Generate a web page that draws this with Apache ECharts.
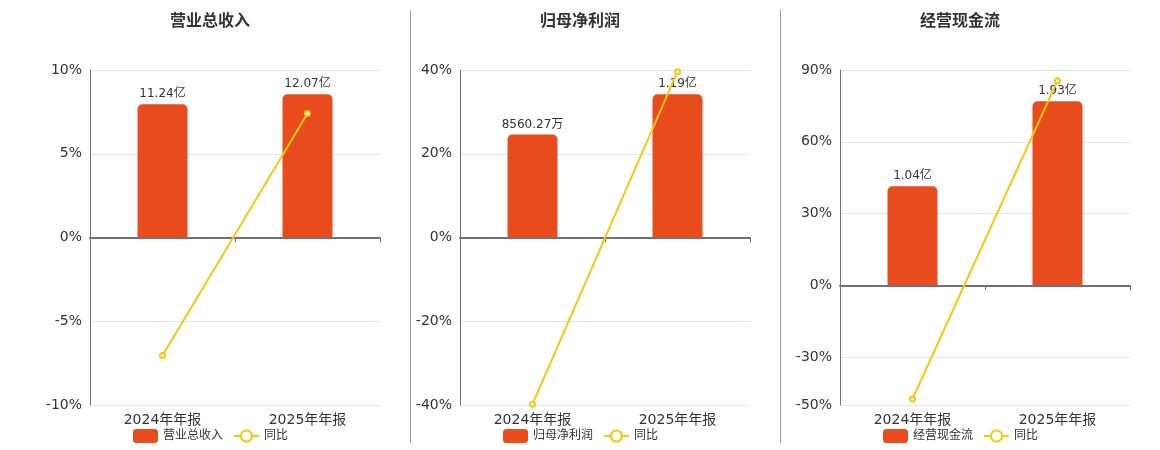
<!DOCTYPE html>
<html><head><meta charset="utf-8">
<script src="https://cdn.jsdelivr.net/npm/echarts@6/dist/echarts.min.js"></script>
<style>html,body{margin:0;padding:0;background:#fff}#c{width:1160px;height:450px}</style>
</head><body><div id="c"></div>
<script>
const categories = ['2024年年报', '2025年年报'];
const titles = ['营业总收入', '归母净利润', '经营现金流'];
// values in 亿
const revenue = [11.24, 12.07];
const netProfit = [0.856027, 1.19];
const cashFlow = [1.04, 1.93];
// YoY %
const revenueYoy = [-7.05, 7.4];
const netProfitYoy = [-39.8, 39.6];
const cashFlowYoy = [-47.5, 85.5];
// percent axis ranges and tick labels
const pctMin = [-10, -40, -50];
const pctMax = [10, 40, 90];
const pctTicks = [[-10, -5, 0, 5, 10], [-40, -20, 0, 20, 40], [-50, -30, 0, 30, 60, 90]];

const barData = [revenue, netProfit, cashFlow];
const yoyData = [revenueYoy, netProfitYoy, cashFlowYoy];
const FONT = "'DejaVu Sans', 'Noto Sans CJK SC', sans-serif";
const BAR = '#e84c1d', LINE = '#f2c811';

function fmt(v) {
  return v < 1 ? (v * 10000).toFixed(2) + '万' : v.toFixed(2) + '亿';
}

const grids = [], xAxes = [], yAxes = [], series = [], legends = [], graphics = [];
for (let i = 0; i < 3; i++) {
  const ox = i === 2 ? 750 : i * 370;
  grids.push({ left: 90 + ox, top: 70, width: 290, height: 335 });
  xAxes.push({
    type: 'category', gridIndex: i, data: categories,
    axisLine: { onZero: true, onZeroAxisIndex: i * 2, lineStyle: { color: '#6e7079', width: 2 } },
    axisTick: { show: true, lineStyle: { color: '#6e7079' } },
    axisLabel: { color: '#333', fontSize: 14, fontFamily: FONT, margin: 8 }
  });
  yAxes.push({
    type: 'value', gridIndex: i, min: pctMin[i], max: pctMax[i],
    axisLine: { show: true, onZero: false, lineStyle: { color: '#6e7079' } },
    axisTick: { show: false, customValues: pctTicks[i] },
    axisLabel: { color: '#333', fontSize: 14, fontFamily: FONT, customValues: pctTicks[i], formatter: v => v + '%' },
    splitLine: { show: true, lineStyle: { color: '#e0e6f1' } }
  });
  const bmax = Math.max(...barData[i]) * 1.17;
  yAxes.push({
    type: 'value', gridIndex: i, show: false,
    min: bmax * pctMin[i] / pctMax[i], max: bmax,
    splitLine: { show: false }
  });
  series.push({
    name: titles[i], type: 'bar', xAxisIndex: i, yAxisIndex: i * 2 + 1,
    data: barData[i], barWidth: 50,
    itemStyle: { color: BAR, borderRadius: [5, 5, 0, 0] },
    label: { show: true, position: 'top', distance: 4, color: '#333', fontSize: 12, fontFamily: FONT, formatter: p => fmt(p.value) }
  });
  series.push({
    name: '同比', type: 'line', xAxisIndex: i, yAxisIndex: i * 2,
    data: yoyData[i], symbol: 'emptyCircle', symbolSize: 5,
    lineStyle: { color: LINE, width: 2 }, itemStyle: { color: LINE }, z: 5
  });
  legends.push({
    left: 128 + ox, top: 424, itemWidth: 25, itemHeight: 14, itemGap: 10,
    data: [titles[i], '同比'],
    textStyle: { color: '#333', fontSize: 12, fontFamily: FONT }
  });
  graphics.push({
    type: 'text',
    x: 210 + ox, y: 14,
    style: { text: titles[i], fill: '#333', font: 'bold 16px ' + FONT, textAlign: 'center', textVerticalAlign: 'top' }
  });
}
graphics.push({ type: 'line', shape: { x1: 410.5, y1: 10, x2: 410.5, y2: 443 }, style: { stroke: '#a0a0a0', lineWidth: 1 } });
graphics.push({ type: 'line', shape: { x1: 780.5, y1: 10, x2: 780.5, y2: 443 }, style: { stroke: '#a0a0a0', lineWidth: 1 } });

const chart = echarts.init(document.getElementById('c'));
chart.setOption({
  animation: false,
  textStyle: { fontFamily: FONT },
  grid: grids, xAxis: xAxes, yAxis: yAxes, series: series, legend: legends,
  graphic: graphics
});
</script></body></html>
